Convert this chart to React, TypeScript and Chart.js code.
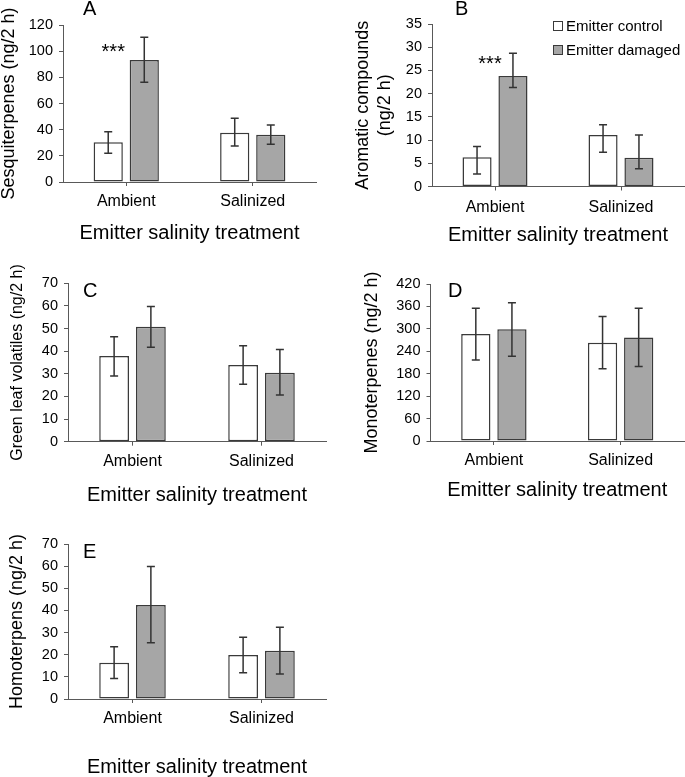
import React, { useEffect, useRef } from 'react';
import { Chart, registerables } from 'chart.js';

Chart.register(...registerables);

// ---------- data ----------
const categories = ['Ambient', 'Salinized'];
const seriesNames = ['Emitter control', 'Emitter damaged'];
const xAxisTitle = 'Emitter salinity treatment';
const significanceMark = '***';

// A – Sesquiterpenes
const sesqControl = [30.3, 37.7];
const sesqControlLow = [21.9, 27.5];
const sesqControlHigh = [38.5, 48.7];
const sesqDamaged = [93.3, 36.2];
const sesqDamagedLow = [76.2, 28.8];
const sesqDamagedHigh = [110.6, 43.6];
const sesqAxis = [0, 120, 20];
const sesqStarValue = 95;

// B – Aromatic compounds
const aroControl = [6.3, 11.1];
const aroControlLow = [2.7, 7.4];
const aroControlHigh = [8.6, 13.3];
const aroDamaged = [23.8, 6.2];
const aroDamagedLow = [21.3, 3.8];
const aroDamagedHigh = [28.7, 11.1];
const aroAxis = [0, 35, 5];
const aroStarValue = 25.2;

// C – Green leaf volatiles
const glvControl = [37.9, 33.9];
const glvControlLow = [29.0, 25.4];
const glvControlHigh = [46.4, 42.4];
const glvDamaged = [50.8, 30.5];
const glvDamagedLow = [41.7, 20.6];
const glvDamagedHigh = [59.7, 40.8];
const glvAxis = [0, 70, 10];

// D – Monoterpenes
const monoControl = [286, 263];
const monoControlLow = [217, 193];
const monoControlHigh = [355, 333];
const monoDamaged = [299, 277];
const monoDamagedLow = [227, 199];
const monoDamagedHigh = [370, 355];
const monoAxis = [0, 420, 60];

// E – Homoterpenes
const homoControl = [16.4, 19.9];
const homoControlLow = [9.3, 11.9];
const homoControlHigh = [23.6, 27.9];
const homoDamaged = [42.5, 21.8];
const homoDamagedLow = [25.4, 11.3];
const homoDamagedHigh = [59.8, 32.4];
const homoAxis = [0, 70, 10];

// ---------- styles ----------
const FONT = "'Liberation Sans', Arial, Helvetica, sans-serif";
const AXIS_COLOR = '#595959';
const BAR_BORDER = '#3a3a3a';
const ERR_COLOR = '#333333';
const CONTROL_FILL = '#ffffff';
const DAMAGED_FILL = '#a6a6a6';

type PanelCfg = {
  letter: string;
  left: number; top: number; w: number; h: number;
  axisWidth: number; padTop: number; padRight: number; xAxisHeight: number;
  yTitle: string | string[]; yTitleSize: number; yTitleLH: number; yTitlePad: number;
  xTickPad: number; xTitlePad: number;
  letterX: number; letterY: number;
  axis: number[];
  control: number[]; controlLow: number[]; controlHigh: number[];
  damaged: number[]; damagedLow: number[]; damagedHigh: number[];
  star?: { value: number; dx: number };
  legend?: { x: number; y: number; gap: number };
};

const panels: PanelCfg[] = [
  {
    letter: 'A', left: 0, top: 0, w: 340, h: 250,
    axisWidth: 63, padTop: 25, padRight: 24, xAxisHeight: 68,
    yTitle: 'Sesquiterpenes (ng/2 h)', yTitleSize: 18, yTitleLH: 1, yTitlePad: 0,
    xTickPad: 6, xTitlePad: 7, letterX: 83, letterY: 15,
    axis: sesqAxis,
    control: sesqControl, controlLow: sesqControlLow, controlHigh: sesqControlHigh,
    damaged: sesqDamaged, damagedLow: sesqDamagedLow, damagedHigh: sesqDamagedHigh,
    star: { value: sesqStarValue, dx: -13 },
  },
  {
    letter: 'B', left: 340, top: 0, w: 345, h: 250,
    axisWidth: 92, padTop: 24, padRight: 1, xAxisHeight: 63.5,
    yTitle: ['Aromatic compounds', '(ng/2 h)'], yTitleSize: 18, yTitleLH: 22 / 18, yTitlePad: 12,
    xTickPad: 7, xTitlePad: 5, letterX: 115, letterY: 15,
    axis: aroAxis,
    control: aroControl, controlLow: aroControlLow, controlHigh: aroControlHigh,
    damaged: aroDamaged, damagedLow: aroDamagedLow, damagedHigh: aroDamagedHigh,
    star: { value: aroStarValue, dx: -5 },
    legend: { x: 213, y: 26, gap: 24 },
  },
  {
    letter: 'C', left: 0, top: 260, w: 340, h: 250,
    axisWidth: 68, padTop: 23.3, padRight: 14, xAxisHeight: 68.3,
    yTitle: 'Green leaf volatiles (ng/2 h)', yTitleSize: 16, yTitleLH: 1, yTitlePad: 9.5,
    xTickPad: 6.7, xTitlePad: 5, letterX: 83, letterY: 37,
    axis: glvAxis,
    control: glvControl, controlLow: glvControlLow, controlHigh: glvControlHigh,
    damaged: glvDamaged, damagedLow: glvDamagedLow, damagedHigh: glvDamagedHigh,
  },
  {
    letter: 'D', left: 340, top: 260, w: 345, h: 250,
    axisWidth: 90.5, padTop: 24, padRight: 1, xAxisHeight: 69,
    yTitle: 'Monoterpenes (ng/2 h)', yTitleSize: 18, yTitleLH: 1, yTitlePad: 23.5,
    xTickPad: 6.4, xTitlePad: 10, letterX: 108, letterY: 37,
    axis: monoAxis,
    control: monoControl, controlLow: monoControlLow, controlHigh: monoControlHigh,
    damaged: monoDamaged, damagedLow: monoDamagedLow, damagedHigh: monoDamagedHigh,
  },
  {
    letter: 'E', left: 0, top: 520, w: 340, h: 257,
    axisWidth: 68, padTop: 24, padRight: 14, xAxisHeight: 78,
    yTitle: 'Homoterpens (ng/2 h)', yTitleSize: 18, yTitleLH: 1, yTitlePad: 8.5,
    xTickPad: 6.4, xTitlePad: 0, letterX: 83, letterY: 37.6,
    axis: homoAxis,
    control: homoControl, controlLow: homoControlLow, controlHigh: homoControlHigh,
    damaged: homoDamaged, damagedLow: homoDamagedLow, damagedHigh: homoDamagedHigh,
  },
];

function makePlugin(cfg: PanelCfg) {
  return {
    id: 'panelExtras' + cfg.letter,
    afterDatasetsDraw(chart: any) {
      const ctx = chart.ctx;
      const yScale = chart.scales.y;
      const lows = [cfg.controlLow, cfg.damagedLow];
      const highs = [cfg.controlHigh, cfg.damagedHigh];
      ctx.save();
      ctx.strokeStyle = ERR_COLOR;
      ctx.lineWidth = 1.5;
      chart.data.datasets.forEach((_: any, d: number) => {
        const meta = chart.getDatasetMeta(d);
        meta.data.forEach((bar: any, j: number) => {
          const x = bar.x;
          const yl = yScale.getPixelForValue(lows[d][j]);
          const yh = yScale.getPixelForValue(highs[d][j]);
          ctx.beginPath();
          ctx.moveTo(x, yl); ctx.lineTo(x, yh);
          ctx.moveTo(x - 4, yl); ctx.lineTo(x + 4, yl);
          ctx.moveTo(x - 4, yh); ctx.lineTo(x + 4, yh);
          ctx.stroke();
        });
      });
      ctx.restore();
    },
    afterDraw(chart: any) {
      const ctx = chart.ctx;
      ctx.save();
      ctx.fillStyle = '#000';
      ctx.textBaseline = 'alphabetic';
      ctx.textAlign = 'left';
      ctx.font = `20px ${FONT}`;
      ctx.fillText(cfg.letter, cfg.letterX, cfg.letterY);
      if (cfg.star) {
        const x = chart.scales.x.getPixelForValue(0) + cfg.star.dx;
        const y = chart.scales.y.getPixelForValue(cfg.star.value);
        ctx.textAlign = 'center';
        ctx.font = `20px ${FONT}`;
        ctx.fillText(significanceMark, x, y);
      }
      if (cfg.legend) {
        const lg = cfg.legend;
        chart.data.datasets.forEach((ds: any, i: number) => {
          const cy = lg.y + i * lg.gap;
          ctx.fillStyle = ds.backgroundColor;
          ctx.fillRect(lg.x, cy - 5, 10, 10);
          ctx.strokeStyle = BAR_BORDER;
          ctx.lineWidth = 1;
          ctx.strokeRect(lg.x + 0.5, cy - 4.5, 9, 9);
          ctx.fillStyle = '#000';
          ctx.textAlign = 'left';
          ctx.textBaseline = 'middle';
          ctx.font = `15px ${FONT}`;
          ctx.fillText(ds.label, lg.x + 13, cy + 1);
        });
      }
      ctx.restore();
    },
  };
}

function Panel({ cfg }: { cfg: PanelCfg }) {
  const ref = useRef<HTMLCanvasElement>(null);
  useEffect(() => {
    if (!ref.current) return;
    const chart = new Chart(ref.current, {
      type: 'bar',
      data: {
        labels: categories,
        datasets: [
          {
            label: seriesNames[0], data: cfg.control,
            backgroundColor: CONTROL_FILL, borderColor: BAR_BORDER, borderWidth: 1.5,
            borderSkipped: false,
            categoryPercentage: 0.57, barPercentage: 0.81,
          },
          {
            label: seriesNames[1], data: cfg.damaged,
            backgroundColor: DAMAGED_FILL, borderColor: BAR_BORDER, borderWidth: 1.5,
            borderSkipped: false,
            categoryPercentage: 0.57, barPercentage: 0.81,
          },
        ],
      },
      options: {
        responsive: false,
        animation: false,
        devicePixelRatio: 1,
        layout: { padding: { top: cfg.padTop, right: cfg.padRight, left: 0, bottom: 0 } },
        plugins: { legend: { display: false }, tooltip: { enabled: false } },
        scales: {
          x: {
            type: 'category',
            offset: true,
            grid: { display: true, drawOnChartArea: false, drawTicks: true, tickLength: 4, offset: false, color: AXIS_COLOR },
            border: { display: true, color: AXIS_COLOR, width: 1 },
            ticks: { color: '#000', font: { family: FONT, size: 16, lineHeight: 1.2 }, padding: cfg.xTickPad, autoSkip: false, maxRotation: 0 },
            title: {
              display: true, text: xAxisTitle, color: '#000',
              font: { family: FONT, size: 20, lineHeight: 1 },
              padding: { top: 0, bottom: cfg.xTitlePad },
            },
            afterFit: (s: any) => { s.height = cfg.xAxisHeight; },
          },
          y: {
            type: 'linear',
            min: cfg.axis[0], max: cfg.axis[1],
            grid: { display: true, drawOnChartArea: false, drawTicks: true, tickLength: 4, color: AXIS_COLOR },
            border: { display: true, color: AXIS_COLOR, width: 1 },
            ticks: { stepSize: cfg.axis[2], color: '#000', font: { family: FONT, size: 14.5 }, padding: 6 },
            title: {
              display: true, text: cfg.yTitle, color: '#000',
              font: { family: FONT, size: cfg.yTitleSize, lineHeight: cfg.yTitleLH },
              padding: { top: cfg.yTitlePad, bottom: 0 },
            },
            afterFit: (s: any) => { s.width = cfg.axisWidth; },
          },
        },
      },
      plugins: [makePlugin(cfg)],
    } as any);
    return () => chart.destroy();
  }, []);
  return (
    <canvas
      ref={ref}
      width={cfg.w}
      height={cfg.h}
      style={{ position: 'absolute', left: cfg.left, top: cfg.top, width: cfg.w, height: cfg.h }}
    />
  );
}

export default function App() {
  return (
    <div style={{ position: 'absolute', left: 0, top: 0, width: 685, height: 777, background: '#fff', overflow: 'hidden' }}>
      {panels.map((p) => (
        <Panel key={p.letter} cfg={p} />
      ))}
    </div>
  );
}
